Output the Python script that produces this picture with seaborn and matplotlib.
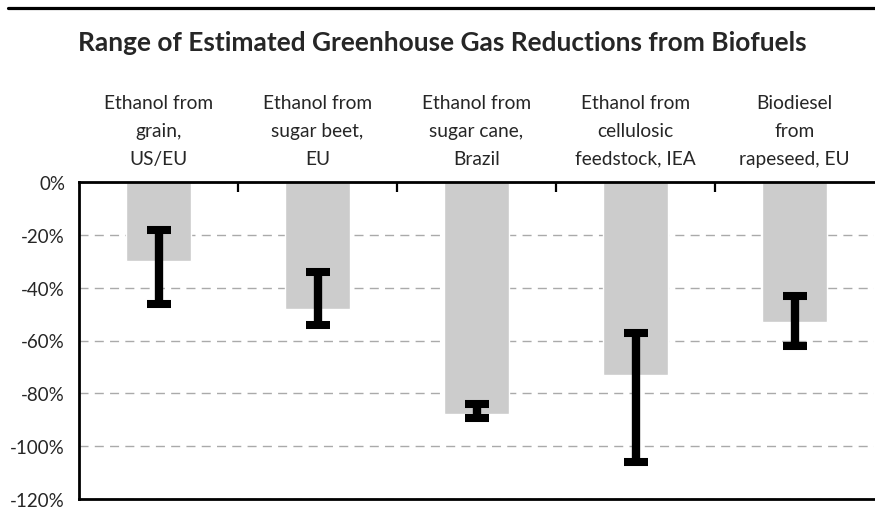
import matplotlib.pyplot as plt
import seaborn as sns
import pandas as pd
import numpy as np

# values (percent change in GHG emissions)
categories = [
    "Ethanol from\ngrain,\nUS/EU",
    "Ethanol from\nsugar beet,\nEU",
    "Ethanol from\nsugar cane,\nBrazil",
    "Ethanol from\ncellulosic\nfeedstock, IEA",
    "Biodiesel\nfrom\nrapeseed, EU",
]
estimate = [-30, -48, -88, -73, -53]
range_high = [-18, -34, -84, -57, -43]
range_low = [-46, -54, -89.5, -106, -62]
y_ticks = [0, -20, -40, -60, -80, -100, -120]

sns.set_theme(style="white")
plt.rcParams["font.family"] = ["Lato", "DejaVu Sans"]

df = pd.DataFrame({"fuel": categories, "estimate": estimate})

fig = plt.figure(figsize=(8.75, 5.1), dpi=100)
ax = fig.add_axes([79 / 875, 10 / 510, 795 / 875, 317 / 510])

sns.barplot(data=df, x="fuel", y="estimate", color="#cccccc", saturation=1,
            width=0.41, errorbar=None, ax=ax, zorder=2)

# range of estimates as thick black I-beams
lo = np.array(range_low)
hi = np.array(range_high)
ax.errorbar(np.arange(len(categories)), (lo + hi) / 2, yerr=(hi - lo) / 2,
            fmt="none", ecolor="black", elinewidth=6, capsize=8.5, capthick=5.8,
            zorder=3)

ax.set_ylim(-120, 0)
ax.set_xlim(-0.5, len(categories) - 0.5)
ax.set_yticks(y_ticks)
ax.set_yticklabels([f"{v}%" for v in y_ticks], fontsize=13.5)
ax.tick_params(axis="y", length=0, pad=10)

# category labels on top, boundary ticks pointing down into the plot
ax.xaxis.set_ticks_position("top")
ax.xaxis.set_label_position("top")
ax.set_xticks(range(len(categories)))
ax.set_xticklabels(categories, fontsize=13.8, linespacing=1.78)
ax.tick_params(axis="x", which="major", length=0, pad=11)
ax.set_xticks(np.arange(0.5, len(categories) - 0.5, 1), minor=True)
ax.tick_params(axis="x", which="minor", top=True, bottom=False, direction="in",
               length=7.5, width=1.6, color="black")
ax.set_xlabel("")
ax.set_ylabel("")

ax.yaxis.grid(True, color="#aaaaaa", linestyle=(0, (6.5, 4.5)), linewidth=1.0)
ax.xaxis.grid(False)
ax.set_axisbelow(True)

for side in ["top", "left", "bottom"]:
    ax.spines[side].set_visible(True)
    ax.spines[side].set_color("black")
    ax.spines[side].set_linewidth(2)
ax.spines["right"].set_visible(False)

fig.text(0.506, 1 - 43 / 510, "Range of Estimated Greenhouse Gas Reductions from Biofuels",
         ha="center", va="center", fontsize=18.9, fontweight="bold")
fig.add_artist(plt.Line2D([8 / 875, 1], [1 - 9 / 510, 1 - 9 / 510],
                          color="black", linewidth=2.3, transform=fig.transFigure))

fig.savefig("out.png", dpi=100)
